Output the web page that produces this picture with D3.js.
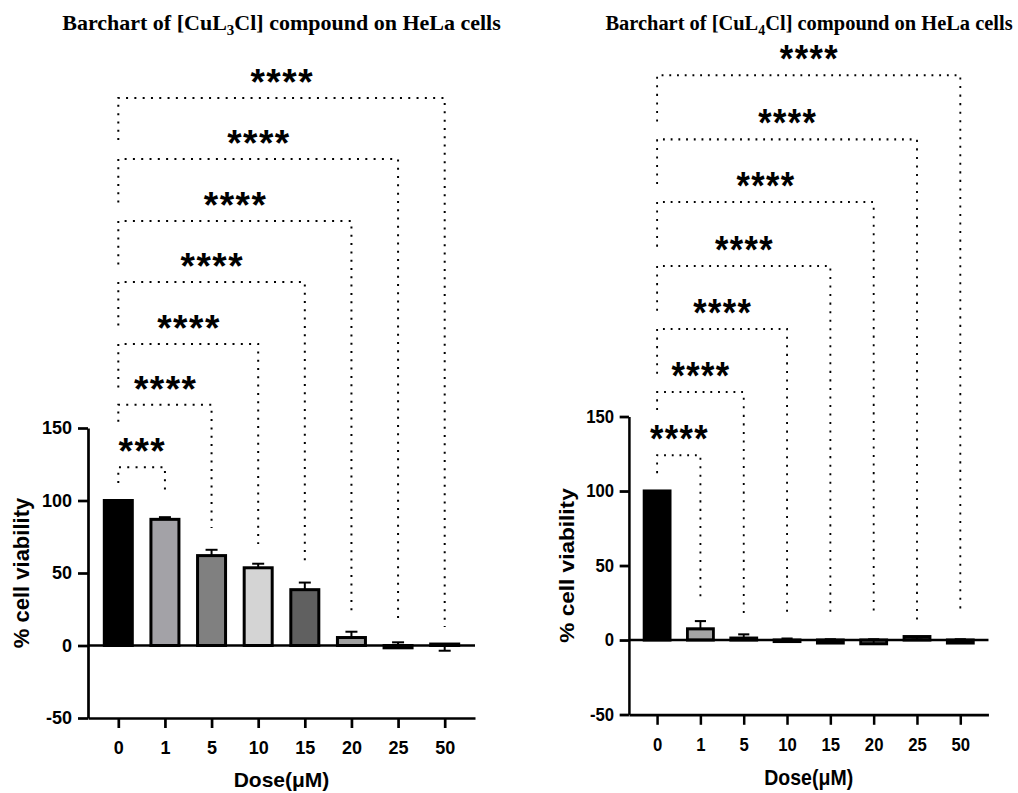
<!DOCTYPE html>
<html>
<head>
<meta charset="utf-8">
<script src="https://cdn.jsdelivr.net/npm/d3@7"></script>
<style>
  body { margin: 0; background: #fff; }
  svg { display: block; }
  .axis path, .axis line { stroke: #000; stroke-width: 2.7; }
  .axis text { font-family: "Liberation Sans", Arial, sans-serif; font-weight: bold; font-size: 18px; fill: #000; }
  .label { font-family: "Liberation Sans", Arial, sans-serif; font-weight: bold; font-size: 21px; }
  .ylabel { font-size: 22px; }
  .title { font-family: "Liberation Serif", "Times New Roman", serif; font-weight: bold; font-size: 22px; }
  .stars { font-family: "Liberation Sans", Arial, sans-serif; font-weight: bold; font-size: 37px; }
  .bracket { fill: none; stroke: #000; stroke-width: 2; stroke-dasharray: 2 6.3; }
</style>
</head>
<body>
<div id="chart"></div>
<script>
  var doses = ["0", "1", "5", "10", "15", "20", "25", "50"];
  var yTicks = [-50, 0, 50, 100, 150];

  // [CuL3Cl] panel
  var cul3Mean = [100, 87, 62, 53.6, 38.5, 5.5, -1.6, 1];
  var cul3Sem = [0, 1.5, 4, 2.8, 4.9, 4, 3.8, -4.6];
  var cul3Fill = ["#000000", "#a3a2a7", "#808080", "#d4d4d4", "#606060", "#a0a0a0", "#505050", "#505050"];
  var cul3Stars = ["***", "****", "****", "****", "****", "****", "****"];
  var cul3Level = [123, 166, 208, 250.7, 292.8, 335.5, 377.6];
  var cul3LeftDrop = [11, 11.7, 30, 30, 30, 30, 29];
  var cul3RightEnd = [104.5, 81, 70, 58.3, 23.1, 17.6, 12.8];

  // [CuL4Cl] panel
  var cul4Mean = [100, 7.5, 1.3, -1, -2, -2.5, 2.3, -2];
  var cul4Sem = [0, 5.2, 2.5, 2, 2.5, 3, -2, 2.5];
  var cul4Fill = ["#000000", "#a6a6a6", "#808080", "#d4d4d4", "#606060", "#a0a0a0", "#505050", "#505050"];
  var cul4Stars = ["****", "****", "****", "****", "****", "****", "****"];
  var cul4Level = [124, 166.4, 208.7, 251, 294, 336, 379];
  var cul4LeftDrop = [12, 12, 30, 30, 30, 30, 31];
  var cul4RightEnd = [27.5, 16, 16.8, 16.8, 18, 13.4, 18.8];

  var width = 1018;
  var height = 793;

  var svg = d3.select("#chart")
    .append("svg")
    .attr("width", width)
    .attr("height", height);

  function drawTitle(sub, tx, sx) {
    var t = svg.append("text")
      .attr("class", "title")
      .attr("text-anchor", "middle")
      .attr("transform", "translate(" + tx + ",30) scale(" + sx + ",1)");
    t.append("tspan").text("Barchart of [CuL");
    t.append("tspan").attr("font-size", "15px").attr("dy", 5).text(sub);
    t.append("tspan").attr("dy", -5).text("Cl] compound on HeLa cells");
  }

  function drawPanel(g, p) {
    var x = d3.scalePoint().domain(doses).range([88, 475]).padding(0.65);
    var y = d3.scaleLinear().domain([-50, 150]).range([718, 428]);

    g.append("g")
      .attr("class", "axis")
      .attr("transform", "translate(88,0)")
      .call(d3.axisLeft(y).tickValues(yTicks).tickSize(10).tickSizeOuter(0).tickPadding(6)
        .tickFormat(function(d) { return String(d); }));

    g.append("g")
      .attr("class", "axis")
      .attr("transform", "translate(0," + y(-50) + ")")
      .call(d3.axisBottom(x).tickSize(10).tickSizeOuter(0).tickPadding(13));

    g.append("text")
      .attr("class", "label")
      .attr("text-anchor", "middle")
      .attr("x", 281.5)
      .attr("y", 787)
      .text("Dose(\u03bcM)");

    g.append("text")
      .attr("class", "label ylabel")
      .attr("text-anchor", "middle")
      .attr("transform", "rotate(-90)")
      .attr("x", -y(50))
      .attr("y", 29)
      .text("% cell viability");

    var bw = 28;
    g.selectAll("rect.bar")
      .data(doses)
      .join("rect")
      .attr("class", "bar")
      .attr("x", function(d) { return x(d) - bw / 2; })
      .attr("y", function(d, i) { return y(Math.max(p.mean[i], 0)); })
      .attr("width", bw)
      .attr("height", function(d, i) { return Math.abs(y(p.mean[i]) - y(0)); })
      .attr("fill", function(d, i) { return p.fill[i]; })
      .attr("stroke", "#000")
      .attr("stroke-width", 3);

    // zero line
    g.append("line")
      .attr("x1", 88).attr("x2", 475)
      .attr("y1", y(0)).attr("y2", y(0))
      .attr("stroke", "#000")
      .attr("stroke-width", 2.4);

    var err = g.append("g").attr("stroke", "#000").attr("stroke-width", 2);
    doses.forEach(function(d, i) {
      if (!p.sem[i]) return;
      var e = p.mean[i] + p.sem[i];
      err.append("line")
        .attr("x1", x(d)).attr("x2", x(d))
        .attr("y1", y(p.mean[i])).attr("y2", y(e));
      err.append("line")
        .attr("x1", x(d) - 6).attr("x2", x(d) + 6)
        .attr("y1", y(e)).attr("y2", y(e));
    });

    doses.slice(1).forEach(function(d, i) {
      var x0 = x(doses[0]);
      var x1 = x(d);
      var ly = y(p.level[i]);
      g.append("path")
        .attr("class", "bracket")
        .attr("d", "M" + x0 + "," + y(p.level[i] - p.leftDrop[i]) +
          "V" + ly + "H" + x1 + "V" + y(p.rightEnd[i]));
      g.append("text")
        .attr("class", "stars")
        .attr("text-anchor", "middle")
        .attr("letter-spacing", 1.5)
        .attr("x", (x0 + x1) / 2 + 0.75)
        .attr("y", ly - 3)
        .text(p.stars[i]);
    });
  }

  drawTitle("3", 281.5, 1);
  drawTitle("4", 809, 0.929);

  drawPanel(svg.append("g"), {
    mean: cul3Mean, sem: cul3Sem, fill: cul3Fill, stars: cul3Stars,
    level: cul3Level, leftDrop: cul3LeftDrop, rightEnd: cul3RightEnd
  });

  drawPanel(svg.append("g").attr("transform", "translate(547.2,-23.3) scale(0.929,1.0276)"), {
    mean: cul4Mean, sem: cul4Sem, fill: cul4Fill, stars: cul4Stars,
    level: cul4Level, leftDrop: cul4LeftDrop, rightEnd: cul4RightEnd
  });
</script>
</body>
</html>
